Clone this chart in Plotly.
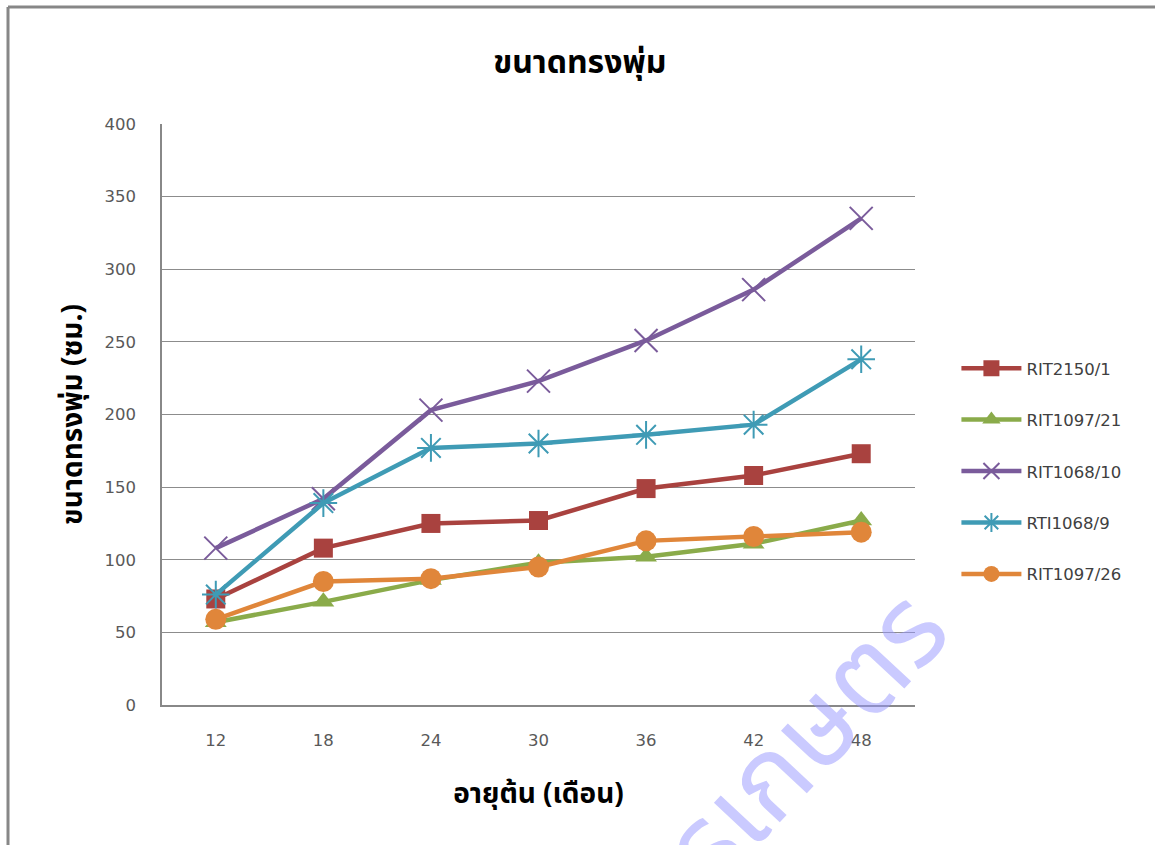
import plotly.graph_objects as go

# Plant age (months) and canopy size (cm) for each clone
ages = ["12", "18", "24", "30", "36", "42", "48"]
rit2150_1 = [73, 108, 125, 127, 149, 158, 173]
rit1097_21 = [57, 71, 86, 98, 102, 111, 127]
rit1068_10 = [108, 142, 203, 223, 251, 286, 335]
rti1068_9 = [76, 139, 177, 180, 186, 193, 238]
rit1097_26 = [59, 85, 87, 95, 113, 116, 119]

series = [
    ("RIT2150/1", rit2150_1, "#A9423F", "square", 19, 0),
    ("RIT1097/21", rit1097_21, "#8AAB4A", "triangle-up", 19, 0),
    ("RIT1068/10", rit1068_10, "#7A5B9B", "x-thin", 23, 2),
    ("RTI1068/9", rti1068_9, "#3F9BB5", "asterisk-open", 23, 2),
    ("RIT1097/26", rit1097_26, "#E0863A", "circle", 21, 0),
]

fig = go.Figure()
for name, vals, color, symbol, size, lw in series:
    fig.add_trace(go.Scatter(
        x=ages, y=vals, name=name, legendgroup=name, mode="lines+markers",
        line=dict(color=color, width=4.5),
        marker=dict(symbol=symbol, size=size, color=color,
                    line=dict(color=color, width=lw)),
        cliponaxis=False,
    ))

thai_font = "Noto Sans Thai, Tahoma, sans-serif"
tick_font = dict(family="DejaVu Sans", size=16.5, color="#595959")

fig.update_layout(
    width=1155, height=845,
    margin=dict(l=162, r=240, t=124, b=140),
    paper_bgcolor="white", plot_bgcolor="white",
    title=dict(text="<b>ขนาดทรงพุ่ม</b>", x=0.502, xanchor="center",
               y=0.927, yanchor="middle",
               font=dict(family=thai_font, size=32, color="#000000")),
    xaxis=dict(
        type="category", showgrid=False, showline=True, linecolor="#888888",
        linewidth=1.5, ticks="", tickfont=tick_font, range=[-0.5, 6.5],
        ticklabelstandoff=19,
        title=dict(text="<b>อายุต้น (เดือน)</b>", standoff=35,
                   font=dict(family=thai_font, size=28, color="#000000")),
    ),
    yaxis=dict(
        range=[0, 400], dtick=50, showgrid=True, gridcolor="#8C8C8C",
        gridwidth=1.2, showline=True, linecolor="#888888", linewidth=1.5,
        ticks="", tickfont=tick_font, zeroline=False, ticklabelstandoff=21,
        title=dict(text="<b>ขนาดทรงพุ่ม (ซม.)</b>", standoff=14,
                   font=dict(family=thai_font, size=28, color="#000000")),
    ),
    legend=dict(x=1.055, y=0.402, xanchor="left", yanchor="middle",
                font=dict(family="DejaVu Sans", size=16.5, color="#404040"),
                tracegroupgap=27, itemwidth=60, bgcolor="rgba(0,0,0,0)"),
    showlegend=True,
)

# chart frame (left and top edges)
fig.add_shape(type="line", xref="paper", yref="paper",
              x0=-0.2045, x1=1.40, y0=1.2014, y1=1.2014,
              line=dict(color="#878787", width=3))
fig.add_shape(type="line", xref="paper", yref="paper",
              x0=-0.2045, x1=-0.2045, y0=1.2014, y1=-0.30,
              line=dict(color="#878787", width=3))

# watermark
fig.add_annotation(text="กรมวิชาการเกษตร", xref="paper", yref="paper",
                   x=(650 - 162) / 753, y=(705 - 910) / 581,
                   xanchor="center", yanchor="middle", showarrow=False,
                   textangle=-47,
                   font=dict(family=thai_font, size=112,
                             color="rgba(150,150,255,0.5)"))

fig.write_html("out.html")
